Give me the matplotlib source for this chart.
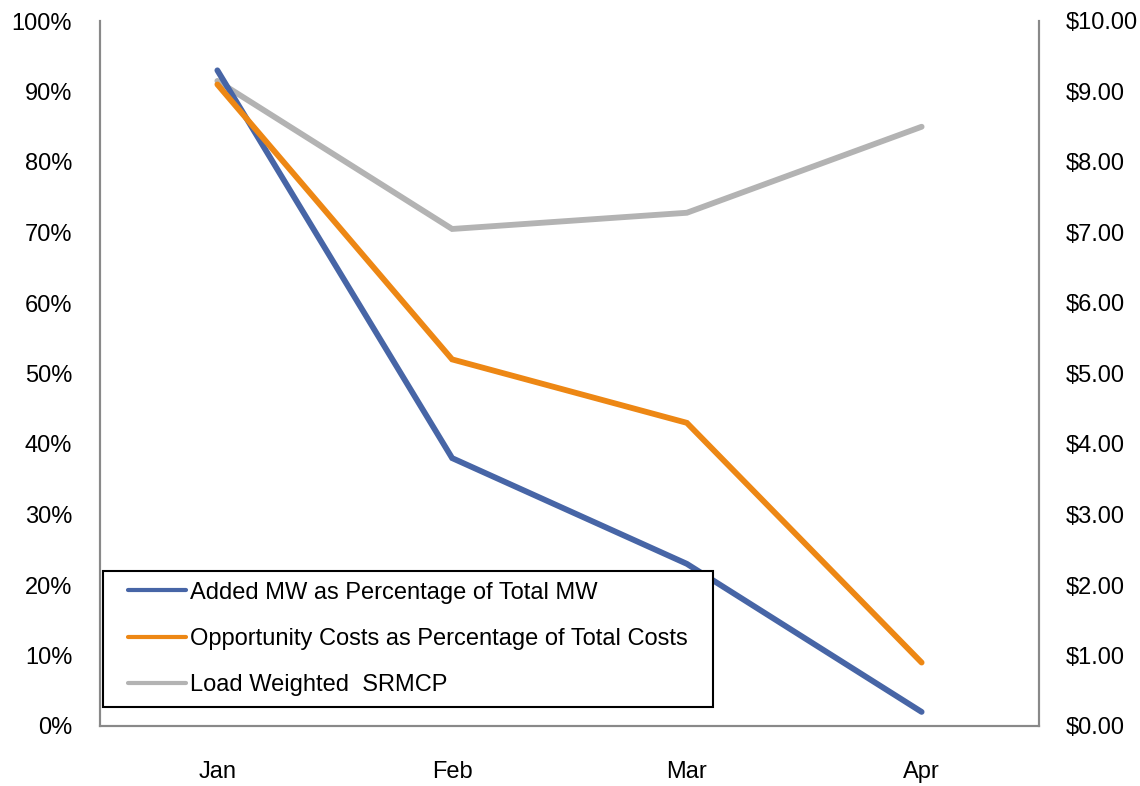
import matplotlib
matplotlib.use("Agg")
import numpy as np
import matplotlib.pyplot as plt
from matplotlib.ticker import FuncFormatter, MultipleLocator
from matplotlib.legend_handler import HandlerLine2D

months = ["Jan", "Feb", "Mar", "Apr"]
added_mw_pct = [93.0, 38.0, 23.0, 2.0]
opp_cost_pct = [91.0, 52.0, 43.0, 9.0]
srmcp = [9.15, 7.05, 7.28, 8.50]

labels = ["Added MW as Percentage of Total MW",
          "Opportunity Costs as Percentage of Total Costs",
          "Load Weighted  SRMCP"]
colors = ["#4765A6", "#ED8714", "#B3B3B3"]

plt.rcParams['font.family'] = ['Liberation Sans', 'DejaVu Sans']
FS = 17


class LeadHandler(HandlerLine2D):
    def __init__(self, lead=0.6, **kw):
        super().__init__(**kw)
        self.lead = lead

    def get_xdata(self, legend, xdescent, ydescent, width, height, fontsize):
        xd = np.array([-xdescent + self.lead * fontsize, -xdescent + width])
        return xd, xd


fig = plt.figure(figsize=(11.4, 7.86), dpi=100)
ax = fig.add_axes([100/1140, 60/786, 939/1140, 705/786])
ax2 = ax.twinx()

x = list(range(len(months)))
kw = dict(lw=4.2, solid_capstyle='round', solid_joinstyle='miter')
l1, = ax.plot(x, added_mw_pct, color=colors[0], **kw)
l2, = ax.plot(x, opp_cost_pct, color=colors[1], **kw)
l3, = ax2.plot(x, srmcp, color=colors[2], **kw)

ax.set_xlim(-0.5, 3.5)
ax.set_ylim(0, 100)
ax2.set_ylim(0, 10)
ax.yaxis.set_major_locator(MultipleLocator(10))
ax2.yaxis.set_major_locator(MultipleLocator(1))
ax.yaxis.set_major_formatter(FuncFormatter(lambda v, p: f"{v:.0f}%"))
ax2.yaxis.set_major_formatter(FuncFormatter(lambda v, p: f"${v:.2f}"))
ax.set_xticks(x)
ax.set_xticklabels(months)

for a in (ax, ax2):
    a.spines['top'].set_visible(False)
    for s in ('left', 'right', 'bottom'):
        a.spines[s].set_color('#898989')
        a.spines[s].set_linewidth(1.5)
    a.tick_params(length=0, labelsize=FS)
ax.tick_params(axis='y', pad=20)
ax2.tick_params(axis='y', pad=19)
ax.tick_params(axis='x', pad=25)

h = LeadHandler(lead=0.6)
leg = ax.legend([l1, l2, l3], labels, loc='lower left',
                bbox_to_anchor=(3/939, 19/705, 610/939, 138/705), mode='expand',
                borderaxespad=0, fontsize=FS, handlelength=3.05, handletextpad=0.17,
                labelspacing=1.03, fancybox=False, framealpha=1, borderpad=0.45,
                handler_map={l1: h, l2: h, l3: h})
leg.get_frame().set_edgecolor('black')
leg.get_frame().set_linewidth(1.5)
ax.set_zorder(ax2.get_zorder() + 1)
ax.patch.set_visible(False)
for ln in leg.get_lines():
    ln.set_linewidth(3.0)
    ln.set_solid_capstyle('round')

fig.savefig("out.png", dpi=100)
